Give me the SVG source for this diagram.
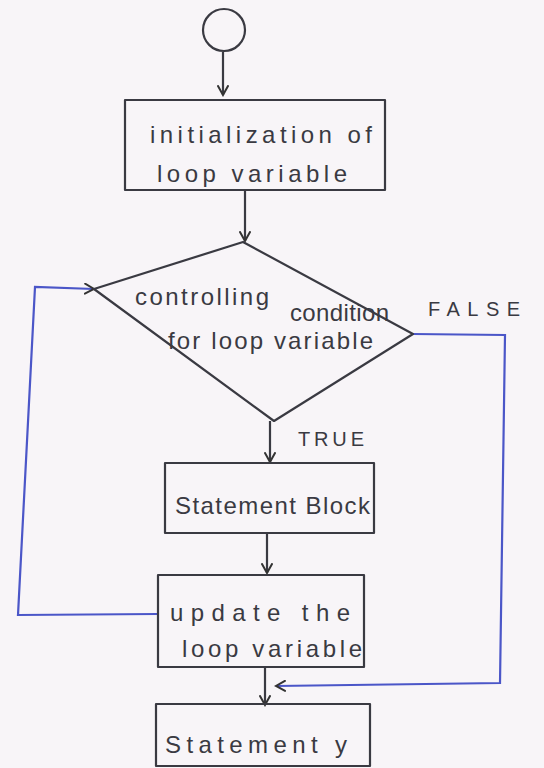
<svg xmlns="http://www.w3.org/2000/svg" width="544" height="768" viewBox="0 0 544 768">
<defs>
<marker id="ah" viewBox="0 0 12 12" refX="10" refY="6" markerWidth="12" markerHeight="12" markerUnits="userSpaceOnUse" orient="auto">
<path d="M1,1 L10,6 L1,11" fill="none" stroke="#333" stroke-width="2" stroke-linecap="round"/>
</marker>
</defs>
<style>
.shape{fill:none;stroke:#3a3a42;stroke-width:2.2;stroke-linejoin:round}
.edge{fill:none;stroke:#3a3a42;stroke-width:2.2}
.blue{stroke:#4b56c8}
.t{font-family:"Liberation Sans",Arial,sans-serif;font-size:24px;fill:#3a3a42}
.lbl{font-family:"Liberation Sans",Arial,sans-serif;font-size:20px;fill:#3a3a42}
</style>
<rect width="544" height="768" fill="#f8f5f8"/>
<g id="connectors">
<line class="edge" x1="223" y1="52" x2="223" y2="95" marker-end="url(#ah)"/>
<line class="edge" x1="245" y1="190" x2="245" y2="241" marker-end="url(#ah)"/>
<line class="edge" x1="270" y1="421" x2="270" y2="462" marker-end="url(#ah)"/>
<line class="edge" x1="267" y1="533" x2="267" y2="573" marker-end="url(#ah)"/>
<line class="edge" x1="265" y1="667" x2="265" y2="705" marker-end="url(#ah)"/>
<polyline class="edge blue" points="158,614 18,615 35,287 94,289" marker-end="url(#ah)"/>
<polyline class="edge blue" points="413,334 505,335 500,683 276,686" marker-end="url(#ah)"/>
<text class="lbl" x="428" y="316" textLength="92" lengthAdjust="spacing">FALSE</text>
<text class="lbl" x="298" y="446" textLength="66" lengthAdjust="spacing">TRUE</text>
</g>
<g id="start">
<circle class="shape" cx="224" cy="30" r="21"/>
</g>
<g id="init">
<rect class="shape" x="125" y="100" width="260" height="90"/>
<text class="t" x="150" y="143" textLength="222" lengthAdjust="spacing">initialization of</text>
<text class="t" x="157" y="182" textLength="190" lengthAdjust="spacing">loop variable</text>
</g>
<g id="condition">
<polygon class="shape" points="243,242 413,334 274,421 94,289"/>
<text class="t" x="135" y="305" textLength="134" lengthAdjust="spacing">controlling</text>
<text class="t" x="290" y="321" textLength="99" lengthAdjust="spacing">condition</text>
<text class="t" x="168" y="349" textLength="205" lengthAdjust="spacing">for loop variable</text>
</g>
<g id="block">
<rect class="shape" x="165" y="463" width="209" height="70"/>
<text class="t" x="175" y="514" textLength="195" lengthAdjust="spacing">Statement Block</text>
</g>
<g id="update">
<rect class="shape" x="158" y="575" width="206" height="92"/>
<text class="t" x="170" y="621" textLength="180" lengthAdjust="spacing">update the</text>
<text class="t" x="182" y="657" textLength="180" lengthAdjust="spacing">loop variable</text>
</g>
<g id="stmty">
<rect class="shape" x="156" y="704" width="214" height="62"/>
<text class="t" x="165" y="753" textLength="182" lengthAdjust="spacing">Statement y</text>
</g>
</svg>
